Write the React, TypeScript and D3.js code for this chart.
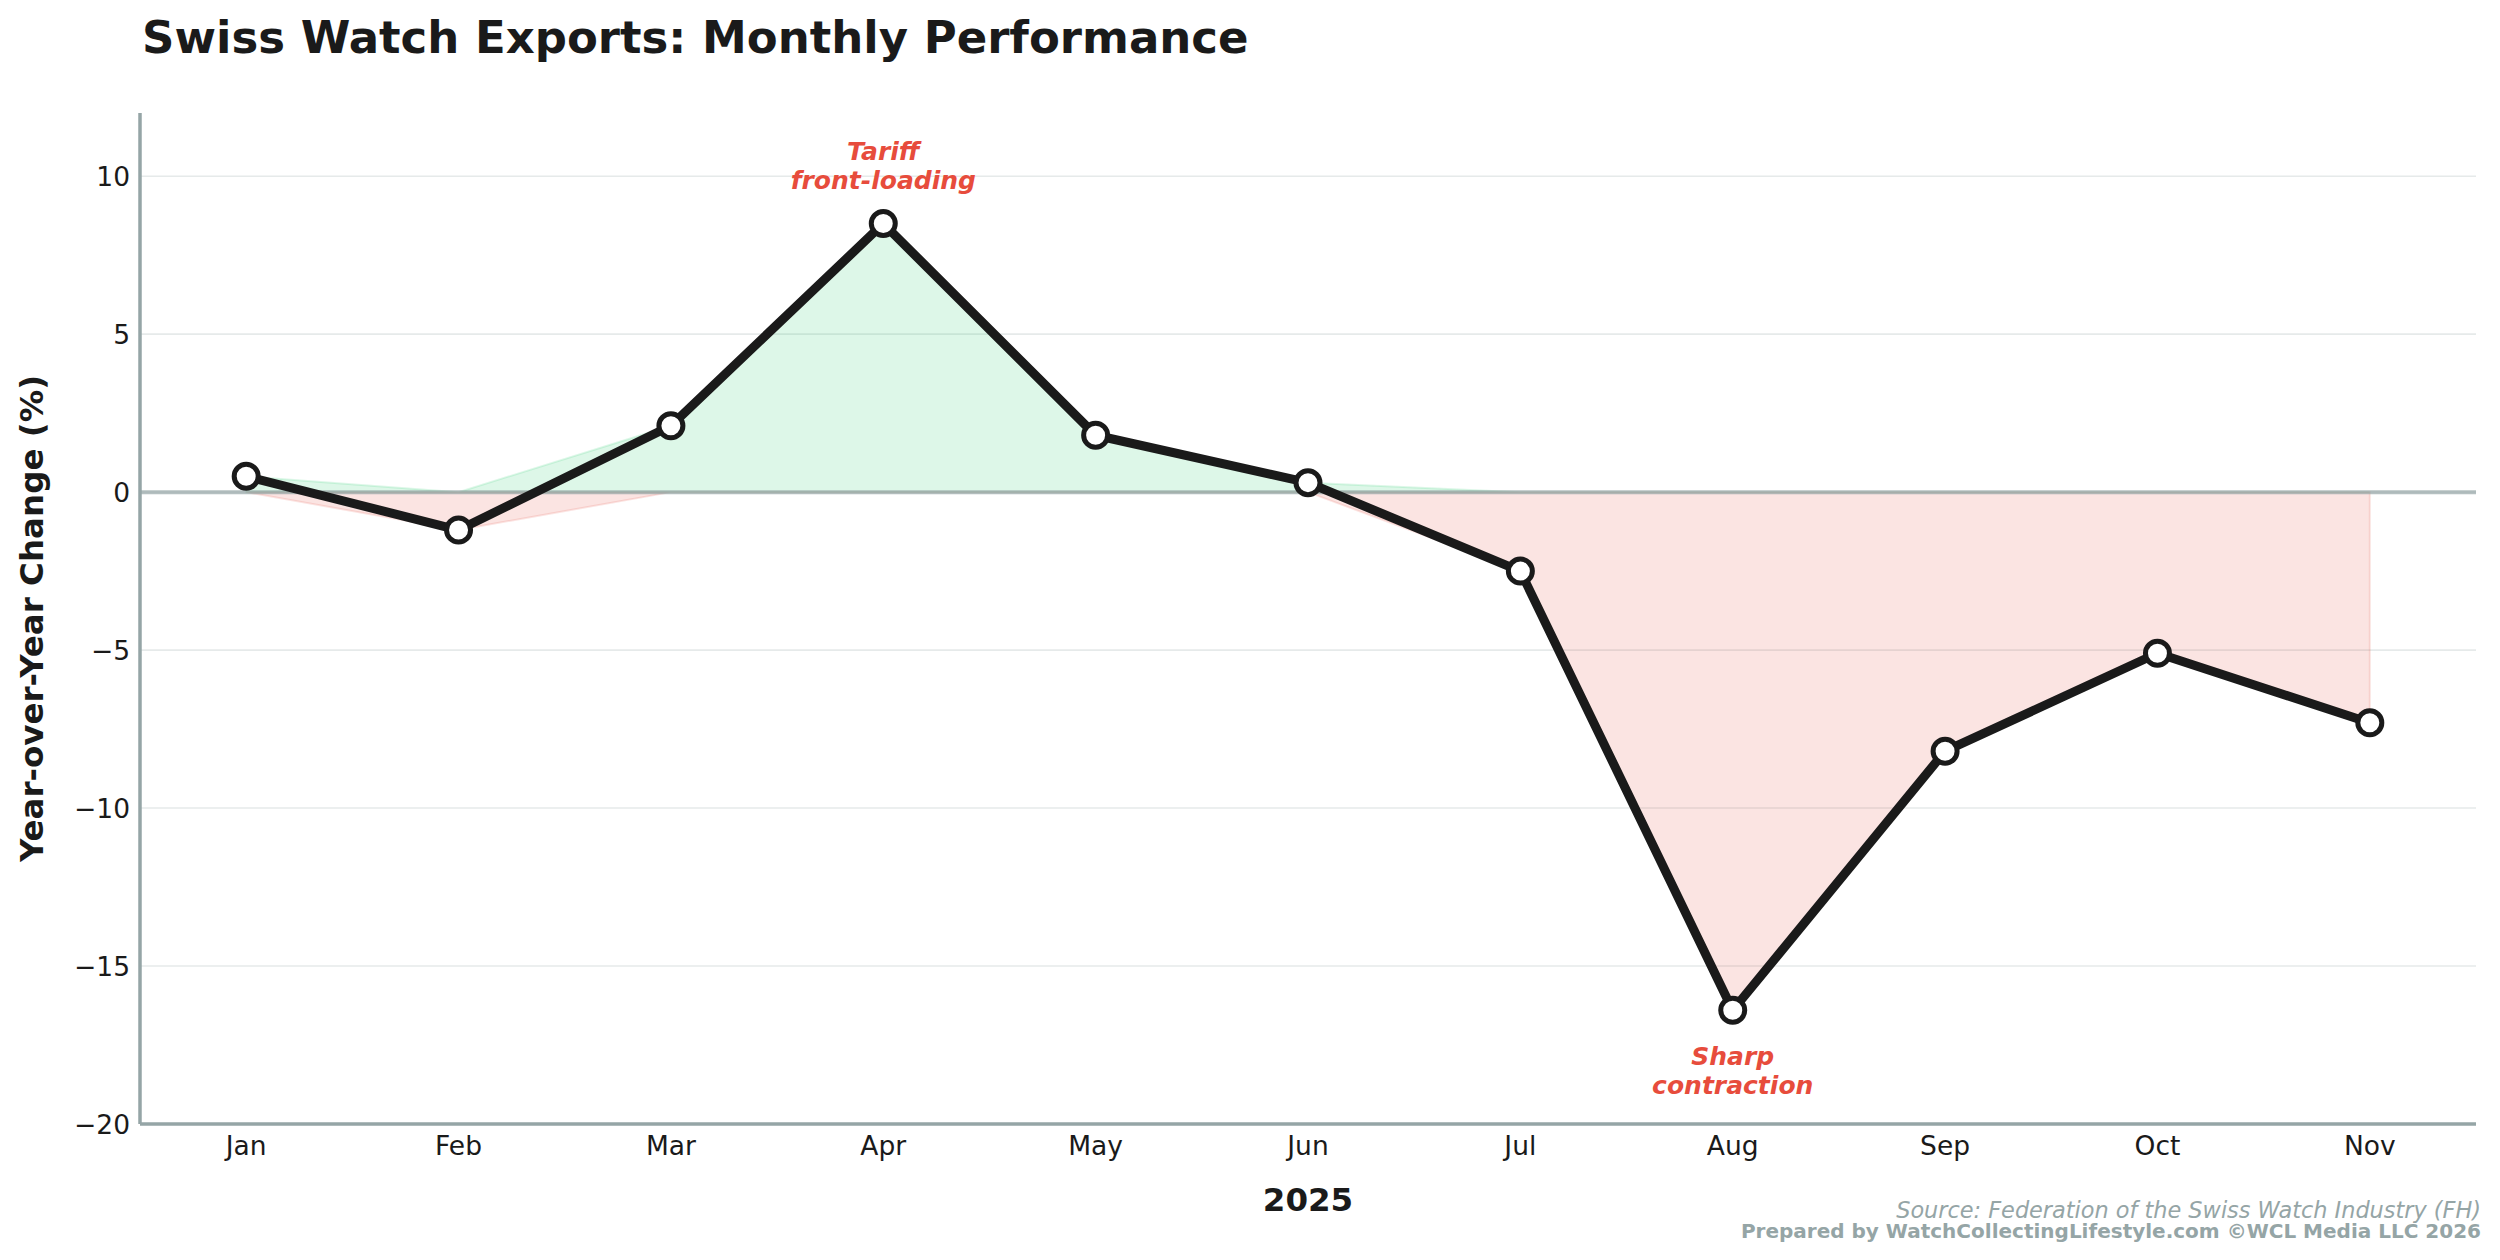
import React, { useEffect, useRef } from 'react';
import * as d3 from 'd3';

// Swiss watch exports, YoY change (%), 2025
const months = ['Jan', 'Feb', 'Mar', 'Apr', 'May', 'Jun', 'Jul', 'Aug', 'Sep', 'Oct', 'Nov'];
const yoyChange = [0.5, -1.2, 2.1, 8.5, 1.8, 0.3, -2.5, -16.4, -8.2, -5.1, -7.3];
const yTicks = [-20, -15, -10, -5, 0, 5, 10];

const annotations = [
  { month: 'Apr', lines: ['Tariff', 'front-loading'], dy: -64 },
  { month: 'Aug', lines: ['Sharp', 'contraction'], dy: 55 },
];

const W = 2500;
const H = 1260;
const FONT = '"DejaVu Sans", sans-serif';

export default function App() {
  const svgRef = useRef<SVGSVGElement>(null);

  useEffect(() => {
    document.body.style.margin = '0';
    if (!svgRef.current) return;
    const svg = d3.select(svgRef.current);
    svg.selectAll('*').remove();

    const margin = { top: 113, right: 24, bottom: 136, left: 140 };

    const x = d3.scaleLinear()
      .domain([-0.5, months.length - 0.5])
      .range([margin.left, W - margin.right]);
    const y = d3.scaleLinear()
      .domain([-20, 12])
      .range([H - margin.bottom, margin.top]);

    const data = yoyChange.map((v, i) => ({ i, v }));

    svg.append('rect').attr('width', W).attr('height', H).attr('fill', '#ffffff');

    // grid
    svg.append('g')
      .selectAll('line')
      .data(yTicks)
      .enter().append('line')
      .attr('x1', x(-0.5)).attr('x2', x(months.length - 0.5))
      .attr('y1', d => y(d)).attr('y2', d => y(d))
      .attr('stroke', '#e6eaea')
      .attr('stroke-width', 1.6);

    // positive / negative fills
    const posArea = d3.area<{ i: number; v: number }>()
      .x(d => x(d.i))
      .y0(y(0))
      .y1(d => y(Math.max(d.v, 0)));
    const negArea = d3.area<{ i: number; v: number }>()
      .x(d => x(d.i))
      .y0(y(0))
      .y1(d => y(Math.min(d.v, 0)));

    svg.append('path')
      .datum(data)
      .attr('d', posArea)
      .attr('fill', '#2ecc71')
      .attr('fill-opacity', 0.16)
      .attr('stroke', '#2ecc71')
      .attr('stroke-opacity', 0.16)
      .attr('stroke-width', 2);

    svg.append('path')
      .datum(data)
      .attr('d', negArea)
      .attr('fill', '#e74c3c')
      .attr('fill-opacity', 0.15)
      .attr('stroke', '#e74c3c')
      .attr('stroke-opacity', 0.15)
      .attr('stroke-width', 2);

    // zero line
    svg.append('line')
      .attr('x1', x(-0.5)).attr('x2', x(months.length - 0.5))
      .attr('y1', y(0)).attr('y2', y(0))
      .attr('stroke', '#95a5a6')
      .attr('stroke-opacity', 0.7)
      .attr('stroke-width', 4);

    // spines
    svg.append('line')
      .attr('x1', x(-0.5)).attr('x2', x(-0.5))
      .attr('y1', y(12)).attr('y2', y(-20))
      .attr('stroke', '#95a5a6').attr('stroke-width', 3.5);
    svg.append('line')
      .attr('x1', x(-0.5)).attr('x2', x(months.length - 0.5))
      .attr('y1', y(-20)).attr('y2', y(-20))
      .attr('stroke', '#95a5a6').attr('stroke-width', 3.5);

    // line + markers
    const line = d3.line<{ i: number; v: number }>()
      .x(d => x(d.i))
      .y(d => y(d.v));

    svg.append('path')
      .datum(data)
      .attr('d', line)
      .attr('fill', 'none')
      .attr('stroke', '#1a1a1a')
      .attr('stroke-width', 9)
      .attr('stroke-linejoin', 'round');

    svg.append('g')
      .selectAll('circle')
      .data(data)
      .enter().append('circle')
      .attr('cx', d => x(d.i))
      .attr('cy', d => y(d.v))
      .attr('r', 12)
      .attr('fill', '#ffffff')
      .attr('stroke', '#1a1a1a')
      .attr('stroke-width', 5);

    // y tick labels
    svg.append('g')
      .selectAll('text')
      .data(yTicks)
      .enter().append('text')
      .attr('x', x(-0.5) - 10)
      .attr('y', d => y(d))
      .attr('dy', '0.36em')
      .attr('text-anchor', 'end')
      .attr('font-family', FONT)
      .attr('font-size', 26.5)
      .attr('fill', '#1a1a1a')
      .text(d => (d < 0 ? '\u2212' + Math.abs(d) : String(d)));

    // x tick labels
    svg.append('g')
      .selectAll('text')
      .data(months)
      .enter().append('text')
      .attr('x', (_, i) => x(i))
      .attr('y', y(-20) + 31)
      .attr('text-anchor', 'middle')
      .attr('font-family', FONT)
      .attr('font-size', 26.5)
      .attr('fill', '#1a1a1a')
      .text(d => d);

    // annotations
    annotations.forEach(a => {
      const i = months.indexOf(a.month);
      const t = svg.append('text')
        .attr('text-anchor', 'middle')
        .attr('font-family', FONT)
        .attr('font-size', 25)
        .attr('font-weight', 'bold')
        .attr('font-style', 'italic')
        .attr('fill', '#e74c3c');
      a.lines.forEach((ln, k) => {
        t.append('tspan')
          .attr('x', x(i))
          .attr('y', y(yoyChange[i]) + a.dy + k * 29)
          .text(ln);
      });
    });

    // axis titles
    svg.append('text')
      .attr('x', (x(-0.5) + x(months.length - 0.5)) / 2)
      .attr('y', 1211)
      .attr('text-anchor', 'middle')
      .attr('font-family', FONT)
      .attr('font-size', 32.5)
      .attr('font-weight', 'bold')
      .attr('fill', '#1a1a1a')
      .text('2025');

    svg.append('text')
      .attr('transform', `translate(43,${(y(12) + y(-20)) / 2}) rotate(-90)`)
      .attr('text-anchor', 'middle')
      .attr('font-family', FONT)
      .attr('font-size', 32.5)
      .attr('font-weight', 'bold')
      .attr('fill', '#1a1a1a')
      .text('Year-over-Year Change (%)');

    // title
    svg.append('text')
      .attr('x', 142)
      .attr('y', 53)
      .attr('font-family', FONT)
      .attr('font-size', 45)
      .attr('font-weight', 'bold')
      .attr('fill', '#1a1a1a')
      .text('Swiss Watch Exports: Monthly Performance');

    // footer
    svg.append('text')
      .attr('x', 2481)
      .attr('y', 1218)
      .attr('text-anchor', 'end')
      .attr('font-family', FONT)
      .attr('font-size', 22.4)
      .attr('font-style', 'italic')
      .attr('fill', '#95a5a6')
      .text('Source: Federation of the Swiss Watch Industry (FH)');

    svg.append('text')
      .attr('x', 2481)
      .attr('y', 1238)
      .attr('text-anchor', 'end')
      .attr('font-family', FONT)
      .attr('font-size', 20)
      .attr('font-weight', 'bold')
      .attr('fill', '#95a5a6')
      .text('Prepared by WatchCollectingLifestyle.com \u00a9WCL Media LLC 2026');
  }, []);

  return (
    <div style={{ position: 'absolute', left: 0, top: 0 }}>
      <svg ref={svgRef} width={W} height={H} viewBox={`0 0 ${W} ${H}`} style={{ display: 'block' }} />
    </div>
  );
}
